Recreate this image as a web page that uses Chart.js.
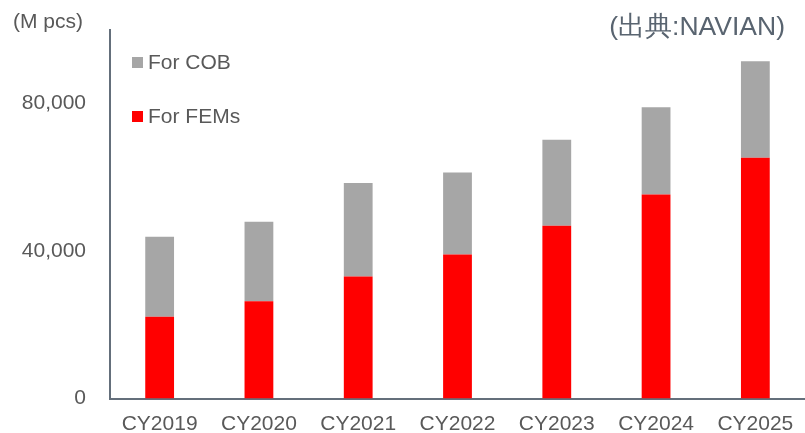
<!DOCTYPE html>
<html>
<head>
<meta charset="utf-8">
<script src="https://cdn.jsdelivr.net/npm/chart.js@4.4.0/dist/chart.umd.min.js"></script>
<style>
  html, body { margin: 0; padding: 0; background: #fff; }
  #wrap { width: 805px; height: 433px; }
</style>
</head>
<body>
<div id="wrap"><canvas id="myChart" width="805" height="433"></canvas></div>
<script>
'use strict';

// data
let years = ['CY2019', 'CY2020', 'CY2021', 'CY2022', 'CY2023', 'CY2024', 'CY2025'];
let forFEMs = [22200, 26400, 33100, 39050, 46900, 55350, 65350];
let forCOB = [21700, 21550, 25400, 22250, 23300, 23700, 26150];
let yTicks = [0, 40000, 80000];

let unitText = '(M pcs)';
let sourceText = '(出典:NAVIAN)';
let fontName = '"Liberation Sans", Arial, sans-serif';

// legend + captions drawn by hand
let extras = {
  id: 'extras',
  afterDraw(chart) {
    let ctx = chart.ctx;
    ctx.save();
    ctx.textBaseline = 'middle';
    ctx.font = '21px ' + fontName;
    ctx.fillStyle = '#595959';
    ctx.textAlign = 'left';
    ctx.fillText(unitText, 13, 22);

    ctx.font = '26.5px ' + fontName;
    ctx.fillStyle = '#596470';
    ctx.textAlign = 'right';
    ctx.fillText(sourceText, 785, 28);

    // legend, top item = last dataset
    let items = chart.data.datasets.slice().reverse();
    let rowY = [62.5, 116.5];
    ctx.font = '21px ' + fontName;
    ctx.textAlign = 'left';
    for (let i = 0; i < items.length; i++) {
      ctx.fillStyle = items[i].backgroundColor;
      ctx.fillRect(132, rowY[i] - 5.5, 11, 11);
      ctx.fillStyle = '#595959';
      ctx.fillText(items[i].label, 148, rowY[i] + 1);
    }
    ctx.restore();
  }
};

let ctx = document.getElementById('myChart').getContext('2d');
let myChart = new Chart(ctx, {
  type: 'bar',
  data: {
    labels: years,
    datasets: [
      {
        label: 'For FEMs',
        data: forFEMs,
        backgroundColor: '#FF0000',
        barPercentage: 0.29,
        categoryPercentage: 1
      },
      {
        label: 'For COB',
        data: forCOB,
        backgroundColor: '#A6A6A6',
        barPercentage: 0.29,
        categoryPercentage: 1
      }
    ]
  },
  options: {
    responsive: false,
    animation: false,
    layout: { padding: { top: 30, right: 0, left: 0, bottom: 0 } },
    plugins: {
      legend: { display: false },
      tooltip: { enabled: false }
    },
    scales: {
      x: {
        stacked: true,
        afterFit(scale) {
          scale.height = 34.5;
          scale.paddingLeft = 0;
          scale.paddingRight = 0;
        },
        grid: { display: false, drawTicks: false },
        border: { display: true, color: '#646f7b', width: 2 },
        ticks: {
          color: '#595959',
          font: { family: fontName, size: 21 },
          padding: 13.5,
          maxRotation: 0
        }
      },
      y: {
        stacked: true,
        min: 0,
        max: 100000,
        afterFit(scale) {
          scale.width = 110;
          scale.paddingTop = 0;
          scale.paddingBottom = 0;
        },
        afterBuildTicks(scale) {
          scale.ticks = yTicks.map(v => ({ value: v }));
        },
        grid: { display: false, drawTicks: false },
        border: { display: true, color: '#646f7b', width: 2 },
        ticks: {
          color: '#595959',
          font: { family: fontName, size: 21 },
          padding: 24,
          callback: v => v.toLocaleString('en-US')
        }
      }
    }
  },
  plugins: [extras]
});
</script>
</body>
</html>
